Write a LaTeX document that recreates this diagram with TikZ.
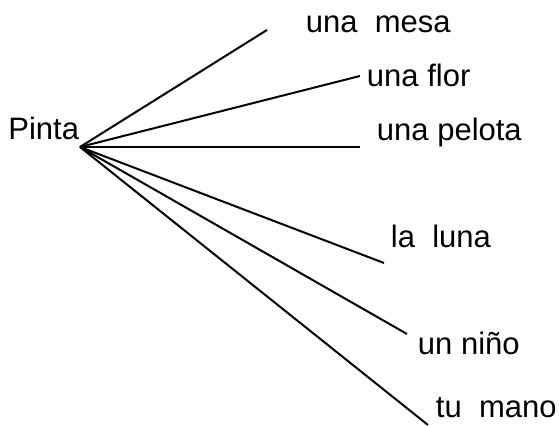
\documentclass[tikz,border=0pt]{standalone}
\usepackage{fontspec}
\setmainfont{Liberation Sans}
\begin{document}
\begin{tikzpicture}[x=0.5pt,y=0.5pt,line width=1pt,
    every node/.style={inner sep=0pt,anchor=base west,font=\fontsize{15.5}{18}\selectfont}]
      \useasboundingbox (0,0) rectangle (559,426);
      \node[anchor=base east] (pinta) at (80,286) {Pinta};
      \coordinate (hub) at (80,279);
      \node (mesa) at (305,393) {una\ \ mesa};
      \node (flor) at (366,339) {una flor};
      \node (pelota) at (376,285) {una pelota};
      \node (luna) at (390,178) {la\ \ luna};
      \node (nino) at (417,71) {un niño};
      \node (mano) at (435,8) {tu\ \ mano};
      \coordinate (e1) at (267,396);
      \coordinate (e2) at (360,350);
      \coordinate (e3) at (360,279);
      \coordinate (e4) at (384,163);
      \coordinate (e5) at (407,92);
      \coordinate (e6) at (428,1);
      \foreach \e in {e1,e2,e3,e4,e5,e6}
        \draw (hub) -- (\e);
    \end{tikzpicture}
\end{document}
